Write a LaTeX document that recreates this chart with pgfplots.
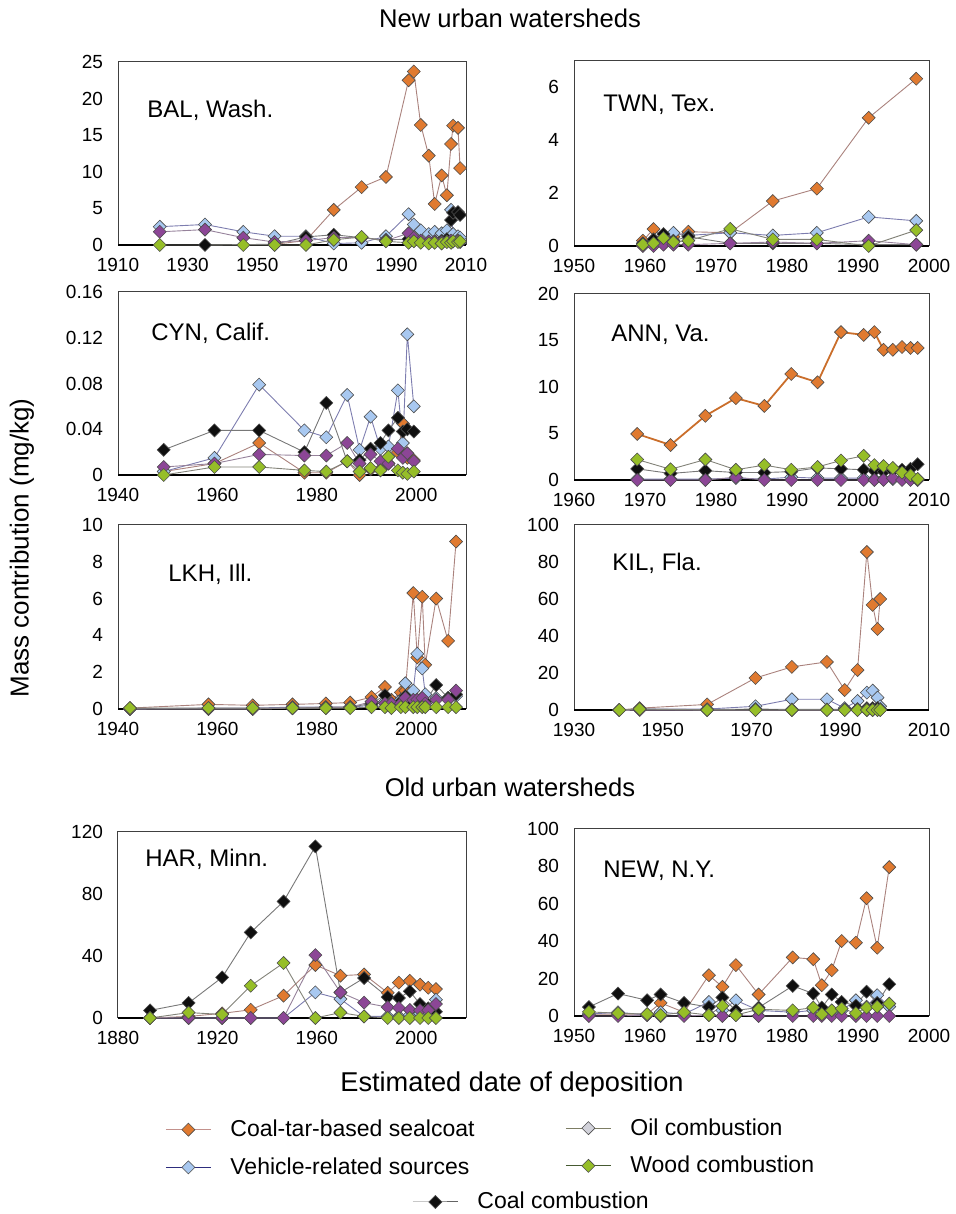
\documentclass[border=0pt]{standalone}
\usepackage{fontspec}
\setmainfont{Liberation Sans}
\usepackage{pgfplots}
\usepackage{pgfplotstable}
\pgfplotsset{compat=1.18}

\definecolor{cO}{RGB}{224,122,48}
\definecolor{cB}{RGB}{168,200,240}
\definecolor{cC}{RGB}{15,15,15}
\definecolor{cP}{RGB}{140,70,150}
\definecolor{cW}{RGB}{150,190,40}
\definecolor{lO}{RGB}{170,130,125}
\definecolor{lB}{RGB}{125,125,175}
\definecolor{lC}{RGB}{120,120,120}
\definecolor{lP}{RGB}{150,130,155}
\definecolor{lW}{RGB}{130,130,120}
\definecolor{gO}{RGB}{195,145,140}
\definecolor{gB}{RGB}{45,45,125}
\definecolor{gP}{RGB}{125,125,100}
\definecolor{gW}{RGB}{70,90,50}
\definecolor{gC}{RGB}{100,100,100}
\definecolor{cPl}{RGB}{210,210,218}

\pgfplotstableread{
year o b c p w
1922 nan 2.5 nan 1.8 0.0
1935 nan 2.8 0.0 2.1 nan
1946 nan 1.8 nan 1.0 0.0
1955 0.1 1.2 0.1 0.4 0.0
1964 0.6 1.2 1.1 0.6 0.0
1972 4.8 0.2 1.4 1.0 0.7
1980 7.9 0.3 1.0 1.0 1.1
1987 9.3 1.2 0.7 0.6 0.5
1993.5 22.5 4.2 0.8 1.6 0.3
1995 23.7 2.8 0.6 1.0 0.5
1997 16.4 2.0 0.5 0.6 0.3
1999.3 12.2 1.5 0.4 0.5 0.2
2001 5.6 1.8 0.5 0.5 0.3
2003 9.5 1.6 0.6 0.4 0.2
2004.5 6.8 2.0 0.8 0.5 0.4
2005.7 13.8 4.8 3.4 0.6 0.3
2006.3 16.3 1.5 4.4 0.5 0.5
2007.7 16.0 1.2 4.5 0.6 0.4
2008.3 10.5 1.0 4.1 0.4 0.5
}\BAL

\pgfplotstableread{
year o b c p w
1959.7 0.2 0.1 0.1 0.0 0.05
1961.2 0.64 0.2 0.25 0.0 0.1
1962.6 0.3 0.35 0.45 0.05 0.3
1964 0.35 0.5 0.2 0.05 0.15
1966.1 0.54 0.4 0.35 0.05 0.2
1972 0.5 0.5 0.1 0.1 0.65
1978 1.7 0.4 0.1 0.15 0.25
1984.2 2.17 0.5 0.1 0.1 0.25
1991.5 4.85 1.1 0.05 0.2 0.0
1998.2 6.33 0.95 0.05 0.05 0.6
}\TWN

\pgfplotstableread{
year o b c p w
1949.2 0.003 0.003 0.022 0.007 0.000
1959.4 0.010 0.015 0.039 0.010 0.007
1968.4 0.028 0.079 0.039 0.018 0.007
1977.5 0.002 0.039 0.020 0.017 0.004
1981.9 0.002 0.033 0.063 0.017 0.003
1986.1 0.012 0.070 0.012 0.028 0.012
1988.6 0.000 0.022 0.013 0.010 0.003
1990.8 0.005 0.051 0.023 0.018 0.006
1992.8 0.005 0.023 0.028 0.012 0.004
1994.4 0.010 0.025 0.039 0.010 0.016
1996.3 0.020 0.074 0.050 0.023 0.004
1997.3 0.045 0.028 0.038 0.015 0.002
1998.2 0.015 0.123 0.040 0.019 0.001
1999.5 0.013 0.060 0.038 0.012 0.003
}\CYN

\pgfplotstableread{
year o b c p w
1968.9 4.95 0.1 1.2 0.0 2.2
1973.6 3.76 0.1 0.7 0.0 1.15
1978.5 6.9 0.1 1.0 0.0 2.2
1982.8 8.8 0.2 0.8 0.3 1.1
1986.8 7.96 0.1 0.8 0.0 1.6
1990.6 11.4 0.3 0.9 0.0 1.1
1994.3 10.5 0.2 1.3 0.0 1.4
1997.6 15.9 0.2 1.2 0.0 2.1
2000.8 15.6 0.2 1.1 0.0 2.6
2002.3 15.9 0.1 1.0 0.0 1.6
2003.6 14.0 0.1 0.9 0.0 1.5
2004.9 14.0 0.1 1.0 0.2 1.3
2006.2 14.3 0.1 1.1 0.0 0.8
2007.4 14.2 0.1 1.2 0.0 0.5
2008.4 14.2 0.1 1.7 0.0 0.1
}\ANN

\pgfplotstableread{
year o b c p w
1942.4 0.05 0.0 0.0 0.0 0.05
1958.2 0.25 0.05 0.0 0.0 0.05
1967.1 0.2 0.05 0.0 0.0 0.05
1975.1 0.25 0.1 0.05 0.05 0.05
1981.8 0.3 0.1 0.1 0.05 0.05
1986.7 0.35 0.1 0.1 0.1 0.05
1991 0.65 0.2 0.3 0.4 0.1
1993.7 1.2 0.4 0.75 0.3 0.1
1995 0.5 0.3 0.3 0.3 0.05
1996.9 0.9 0.5 0.4 0.3 0.1
1997.8 1.0 1.4 0.7 0.6 0.1
1999.4 6.3 1.0 0.3 0.5 0.1
2000.2 2.8 3.0 0.5 0.5 0.1
2001.2 6.1 2.2 0.5 0.6 0.1
2001.8 2.4 0.8 0.4 0.3 0.1
2004 6.0 0.6 1.3 0.5 0.1
2006.4 3.7 0.6 0.6 0.5 0.1
2008 9.1 0.7 0.8 1.0 0.1
}\LKH

\pgfplotstableread{
year o b c p w
1940.2 0.0 0.0 0.0 0.0 0.0
1944.8 1.0 0.5 0.5 0.0 0.5
1960 3.0 0.5 0.2 0.0 0.0
1970.9 17.3 2.0 0.5 0.0 0.0
1979.1 23.3 5.8 0.3 0.0 0.0
1987 26.0 5.8 0.3 0.0 0.0
1991 10.8 1.0 0.3 0.0 0.0
1993.9 21.6 4.9 0.5 0.0 0.0
1996 85.4 9.4 1.0 0.0 0.0
1997.3 56.8 10.5 1.0 0.0 0.0
1998.4 43.8 6.7 1.0 0.0 0.0
1999 60.0 2.0 0.5 0.0 0.0
}\KIL

\pgfplotstableread{
year o b c p w
1892.9 0 0 4.9 0 0
1908.4 1 0 9.7 0 3.5
1921.9 3 0 26.2 0 2.3
1933.4 5.3 0 55.2 0 20.8
1946.6 14.4 0 75.2 0 35.5
1959.4 34.2 16.5 110.7 40.6 0
1969.5 27.3 12.2 16.5 16.5 3.5
1979 28.1 1 25.8 9.9 1
1988.5 16.3 1 13.5 7 0
1993 22.8 1 12.9 6.5 0
1997.4 24 2 17.2 5.2 0
2001.5 21.5 3 9 5 0
2004.8 19.5 4 6.2 5 0
2007.9 18.7 11.8 4 9 0
}\HAR

\pgfplotstableread{
year o b c p w
1952.1 1 1 4.8 0 2.2
1956.2 1 2 12 0 1.5
1960.3 1 0.5 8.4 0.5 1
1962.2 7 2 11.5 0 0.5
1965.5 2 1 7 0 2
1969 21.8 7.5 4.8 0.5 0.5
1970.9 15.6 3 9.9 0 5.4
1972.8 27.2 8.4 3 0.5 0.5
1976 11.5 3 4.5 0 3.6
1980.8 31.3 2 16.1 0 3
1983.7 30.4 3 12 0 4.5
1984.9 16.5 2 4.5 0 1
1986.3 24.5 2 11.5 0 3
1987.7 40.1 3 7.5 0 4
1989.7 39.2 8.4 5.5 0 1.5
1991.2 63 5 13 0 4.5
1992.7 36.5 11.1 7 0 5
1994.4 79.6 5 17 0 6.6
}\NEW

\pgfplotsset{
  panel/.style={
    scale only axis, clip=false, anchor=south west,
    axis line style={draw=black!75, line width=0.5pt},
    major tick length=0pt,
    tick label style={font=\fontsize{9.5}{11}\selectfont},
    yticklabel style={xshift=-4pt},
    xticklabel style={yshift=-3pt},
    /pgf/number format/assume math mode=true,
    /pgf/number format/1000 sep={},
    scaled ticks=false,
    ymin=0,
  },
  L/.style={panel, at={(59pt,#1)}, width=174pt},
  R/.style={panel, at={(287pt,#1)}, width=177.5pt},
  mk/.style={mark=square*, mark size=2.3pt,
    mark options={solid, rotate=45, line width=0.3pt, fill=#1, draw=black!70}},
  so/.style={draw=lO, line width=0.45pt, mk=cO},
  sb/.style={draw=lB, line width=0.45pt, mk=cB},
  sc/.style={draw=lC, line width=0.45pt, mk=cC},
  sp/.style={draw=lP, line width=0.45pt, mk=cP},
  sw/.style={draw=lW, line width=0.45pt, mk=cW},
  leg/.style={hide axis, scale only axis, width=1pt, height=1pt,
    xmin=0, xmax=1, ymin=0, ymax=1, anchor=center, at={#1},
    legend cell align=left,
    legend style={at={(0.5,0.5)}, anchor=west, draw=none, fill=none,
      inner sep=0pt, font=\fontsize{11.5}{13}\selectfont, row sep=5pt,
      /tikz/every odd column/.append style={column sep=7.5pt}},
    legend image code/.code={\draw[mark repeat=2,mark phase=2,##1]
      plot coordinates {(0pt,0pt)(11.25pt,0pt)(22.5pt,0pt)};}},
}

\newcommand\series[1]{%
  \addplot[so] table[x=year,y=o]{#1};
  \addplot[sb] table[x=year,y=b]{#1};
  \addplot[sc] table[x=year,y=c]{#1};
  \addplot[sp] table[x=year,y=p]{#1};
  \addplot[sw] table[x=year,y=w]{#1};
}

\begin{document}
\begin{tikzpicture}
\useasboundingbox (0,0) rectangle (477.5pt,607pt);

% BAL
\begin{axis}[L=484.5pt, height=91.5pt, xmin=1910, xmax=2010, xtick={1910,1930,...,2010}, ymax=25, ytick={0,5,...,25}]
\addplot[black, line width=1pt, forget plot] coordinates {(1910,0) (2010,0)};
\series{\BAL}
\end{axis}
% TWN
\begin{axis}[R=484pt, height=92.5pt, xmin=1950, xmax=2000, xtick={1950,1960,...,2000}, ymax=7, ytick={0,2,4,6}]
\addplot[black, line width=1pt, forget plot] coordinates {(1950,0) (2000,0)};
\series{\TWN}
\end{axis}
% CYN
\begin{axis}[L=369.5pt, height=91.5pt, xmin=1940, xmax=2010, xtick={1940,1960,1980,2000}, ymax=0.16, ytick={0,0.04,0.08,0.12,0.16}, yticklabels={0,0.04,0.08,0.12,0.16}]
\addplot[black, line width=1pt, forget plot] coordinates {(1940,0) (2010,0)};
\series{\CYN}
\end{axis}
% ANN
\begin{axis}[R=367pt, height=93pt, xmin=1960, xmax=2010, xtick={1960,1970,...,2010}, ymax=20, ytick={0,5,...,20}]
\addplot[black, line width=1pt, forget plot] coordinates {(1960,0) (2010,0)};
\addplot[draw=cO!90!black, line width=0.9pt, mk=cO] table[x=year,y=o]{\ANN};
\addplot[sb] table[x=year,y=b]{\ANN};
\addplot[sc] table[x=year,y=c]{\ANN};
\addplot[sp] table[x=year,y=p]{\ANN};
\addplot[sw] table[x=year,y=w]{\ANN};
\end{axis}
% LKH
\begin{axis}[L=252.5pt, height=92pt, xmin=1940, xmax=2010, xtick={1940,1960,1980,2000}, ymax=10, ytick={0,2,...,10}]
\addplot[black, line width=1pt, forget plot] coordinates {(1940,0) (2010,0)};
\series{\LKH}
\end{axis}
% KIL
\begin{axis}[R=252pt, height=92.5pt, xmin=1930, xmax=2010, xtick={1930,1950,...,2010}, ymax=100, ytick={0,20,...,100}]
\addplot[black, line width=1pt, forget plot] coordinates {(1930,0) (2010,0)};
\series{\KIL}
\end{axis}
% HAR
\begin{axis}[L=98pt, height=93pt, xmin=1880, xmax=2020, xtick={1880,1920,1960,2000}, ymax=120, ytick={0,40,80,120}]
\addplot[black, line width=1pt, forget plot] coordinates {(1880,0) (2020,0)};
\series{\HAR}
\end{axis}
% NEW
\begin{axis}[R=99pt, height=93.5pt, xmin=1950, xmax=2000, xtick={1950,1960,...,2000}, ymax=100, ytick={0,20,...,100}]
\addplot[black, line width=1pt, forget plot] coordinates {(1950,0) (2000,0)};
\series{\NEW}
\end{axis}

% panel titles
\begin{scope}[every node/.style={anchor=west, inner sep=0pt, font=\fontsize{12}{14}\selectfont}]
\node at (73.5pt,552pt) {BAL, Wash.};
\node at (301.5pt,554.5pt) {TWN, Tex.};
\node at (75.5pt,440.5pt) {CYN, Calif.};
\node at (305.5pt,439.5pt) {ANN, Va.};
\node at (84pt,320pt) {LKH, Ill.};
\node at (306pt,325.5pt) {KIL, Fla.};
\node at (72.5pt,177.5pt) {HAR, Minn.};
\node at (301.5pt,171.5pt) {NEW, N.Y.};
\end{scope}

\node[font=\fontsize{12.8}{14}\selectfont] at (255pt,598pt) {New urban watersheds};
\node[font=\fontsize{12.8}{14}\selectfont] at (255pt,213.5pt) {Old urban watersheds};
\node[font=\fontsize{13.6}{15}\selectfont] at (256pt,65pt) {Estimated date of deposition};
\node[rotate=90, font=\fontsize{13}{15}\selectfont] at (11pt,333pt) {Mass contribution (mg/kg)};

% legends
\begin{axis}[leg={(82.5pt,32.75pt)}]
\addlegendimage{draw=gO, line width=0.5pt, mk=cO}
\addlegendentry{Coal-tar-based sealcoat}
\addlegendimage{draw=gB, line width=0.5pt, mk=cB}
\addlegendentry{Vehicle-related sources}
\end{axis}
\begin{axis}[leg={(282.5pt,33.5pt)}]
\addlegendimage{draw=gP, line width=0.5pt, mk=cPl}
\addlegendentry{Oil combustion}
\addlegendimage{draw=gW, line width=0.5pt, mk=cW}
\addlegendentry{Wood combustion}
\end{axis}
\begin{axis}[leg={(206pt,6pt)}]
\addlegendimage{draw=gC, line width=0.5pt, mk=cC}
\addlegendentry{Coal combustion}
\end{axis}
\end{tikzpicture}
\end{document}
